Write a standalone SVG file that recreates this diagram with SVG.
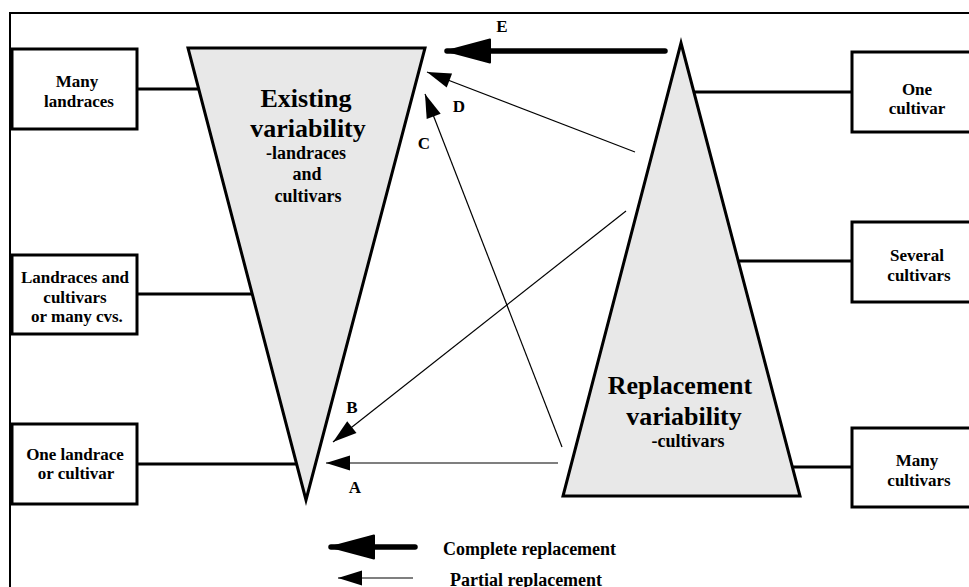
<svg xmlns="http://www.w3.org/2000/svg" width="969" height="587" viewBox="0 0 969 587" font-family="Liberation Serif, Times New Roman, serif" font-weight="bold">
<style>
text{font-family:'Liberation Serif','Times New Roman',serif;font-weight:bold;fill:#000;text-anchor:middle}
.box{fill:#fff;stroke:#000;stroke-width:3}
.tri{fill:#e8e8e8;stroke:#000;stroke-width:3;stroke-linejoin:miter}
.link{stroke:#000;stroke-width:3;fill:none}
.thin{stroke:#000;stroke-width:1.2;fill:none;marker-end:url(#ah)}
.thick{stroke:#000;stroke-width:5.5;fill:none;stroke-linecap:round;marker-end:url(#ahb)}
.t17{font-size:17px}
.big{font-size:26px}
.mid{font-size:18px}
.leg{font-size:18px;text-anchor:start}
</style>
<defs>
<marker id="ah" markerUnits="userSpaceOnUse" markerWidth="26" markerHeight="17" refX="24" refY="7.5" orient="auto" overflow="visible">
<path d="M0,0 L24,7.5 L0,15 z" fill="#000"/>
</marker>
<marker id="ahb" markerUnits="userSpaceOnUse" markerWidth="46" markerHeight="26" refX="43" refY="11.5" orient="auto" overflow="visible">
<path d="M0,0 L43,11.5 L0,23 z" fill="#000" stroke="#000" stroke-width="2" stroke-linejoin="round"/>
</marker>
</defs>
<rect x="0" y="0" width="969" height="587" fill="#fff"/>
<rect x="10" y="13" width="980" height="600" fill="none" stroke="#000" stroke-width="2"/>

<g id="links">
<line class="link" x1="137" y1="89" x2="198" y2="89"/>
<line class="link" x1="137" y1="294" x2="252" y2="294"/>
<line class="link" x1="137" y1="464" x2="297" y2="464"/>
<line class="link" x1="694" y1="92" x2="852" y2="92"/>
<line class="link" x1="738" y1="261" x2="852" y2="261"/>
<line class="link" x1="792" y1="467" x2="852" y2="467"/>
</g>

<g id="existing">
<polygon class="tri" points="188,48 425,48 306,500"/>
<text class="big" x="306" y="107">Existing</text>
<text class="big" x="308" y="137">variability</text>
<text class="mid" x="306" y="159">-landraces</text>
<text class="mid" x="307" y="180">and</text>
<text class="mid" x="308" y="202">cultivars</text>
</g>

<g id="replacement">
<polygon class="tri" points="681,43 800,496 563,496"/>
<text class="big" x="680" y="394">Replacement</text>
<text class="big" x="684" y="425">variability</text>
<text class="mid" x="688" y="447">-cultivars</text>
</g>

<g id="many-landraces">
<rect class="box" x="12" y="49" width="125" height="80"/>
<text class="t17" x="77" y="87">Many</text>
<text class="t17" x="79" y="107">landraces</text>
</g>
<g id="landraces-cultivars">
<rect class="box" x="12" y="255" width="125" height="79"/>
<text class="t17" x="75" y="283">Landraces and</text>
<text class="t17" x="75" y="303">cultivars</text>
<text class="t17" x="77" y="322">or many cvs.</text>
</g>
<g id="one-landrace">
<rect class="box" x="12" y="424" width="125" height="80"/>
<text class="t17" x="75" y="460">One landrace</text>
<text class="t17" x="76" y="479">or cultivar</text>
</g>
<g id="one-cultivar">
<rect class="box" x="852" y="52" width="130" height="80"/>
<text class="t17" x="917" y="95">One</text>
<text class="t17" x="917" y="114">cultivar</text>
</g>
<g id="several-cultivars">
<rect class="box" x="852" y="222" width="130" height="80"/>
<text class="t17" x="917" y="261">Several</text>
<text class="t17" x="919" y="281">cultivars</text>
</g>
<g id="many-cultivars">
<rect class="box" x="852" y="428" width="130" height="79"/>
<text class="t17" x="917" y="466">Many</text>
<text class="t17" x="919" y="486">cultivars</text>
</g>

<g id="connectors">
<line class="thick" x1="665" y1="51" x2="447" y2="51"/>
<line class="thin" x1="635" y1="152" x2="427" y2="72"/>
<line class="thin" x1="562" y1="447" x2="425" y2="94"/>
<line class="thin" x1="626" y1="211" x2="333" y2="442"/>
<line class="thin" x1="558" y1="463" x2="326" y2="463"/>
<text class="t17" x="502" y="32">E</text>
<text class="t17" x="459" y="112">D</text>
<text class="t17" x="424" y="149">C</text>
<text class="t17" x="352" y="413">B</text>
<text class="t17" x="355" y="493">A</text>
</g>

<g id="legend">
<line class="thick" x1="415" y1="547" x2="331" y2="547"/>
<line class="thin" x1="413" y1="578" x2="338" y2="578"/>
<text class="leg" x="443" y="555">Complete replacement</text>
<text class="leg" x="450" y="586">Partial replacement</text>
</g>
</svg>
